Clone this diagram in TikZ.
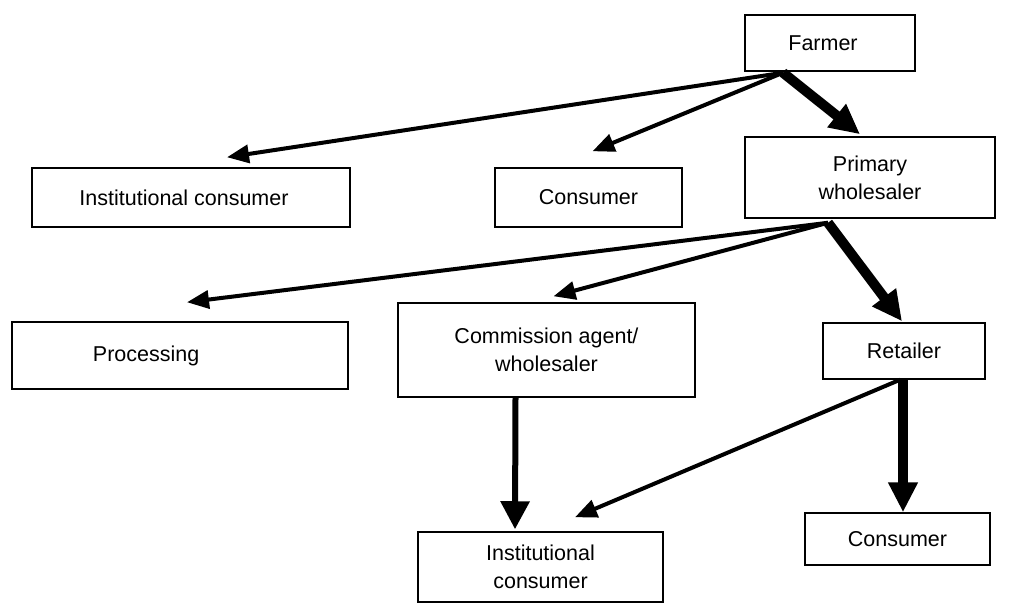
\documentclass[tikz,border=0pt]{standalone}
\usepackage{fontspec}
\setmainfont{Liberation Sans}
\usetikzlibrary{arrows.meta,calc}

\begin{document}
\begin{tikzpicture}[x=1pt, y=-1pt,
  box/.style = {draw, line width=1.5pt, inner sep=0pt, align=center, font=\fontsize{21.5}{28}\selectfont},
  arr/.style = {line width=4pt, -{Triangle[length=22pt, width=18pt]}},
  arrmid/.style = {line width=6pt, -{Triangle[length=28pt, width=28pt]}},
  arrbig/.style = {line width=10pt, -{Triangle[length=30pt, width=28pt]}}]
\useasboundingbox (0,0) rectangle (1009,603);

\node[box, minimum width=170pt, minimum height=56pt] (farmer) at (830,43) {Farmer\hspace*{14pt}};
\node[box, minimum width=250pt, minimum height=81pt] (prim) at (870,177.5) {Primary\\wholesaler};
\node[box, minimum width=318pt, minimum height=59pt] (inst) at (191,197.5) {Institutional consumer\hspace*{14pt}};
\node[box, minimum width=187pt, minimum height=59pt] (cons) at (588.5,197.5) {Consumer};

\node[box, minimum width=336pt, minimum height=67pt, text width=336pt, align=left] (proc) at (180,355.5) {\hspace*{81pt}Processing};
\node[box, minimum width=297pt, minimum height=94pt] (comm) at (546.5,350) {Commission agent/\\wholesaler};
\node[box, minimum width=162pt, minimum height=56pt] (ret) at (904,351) {Retailer};

\node[box, minimum width=245pt, minimum height=70pt] (instb) at (540.5,567) {Institutional\\consumer};
\node[box, minimum width=185pt, minimum height=52pt] (consb) at (897.5,539) {Consumer};

% from the farmer
\draw[arr] ($(farmer.south)+(-47,1)$) -- ($(inst.north)+(36,-10)$);
\draw[arr] ($(farmer.south)+(-47,1)$) -- ($(cons.north)+(4,-16)$);
\draw[arrbig] ($(farmer.south)+(-47,1)$) -- ($(prim.north)+(-10,-2)$);

% from the primary wholesaler
\draw[arr] ($(prim.south)+(-42,4)$) -- ($(proc.north)+(7,-19)$);
\draw[arr] ($(prim.south)+(-42,4)$) -- ($(comm.north)+(7,-6)$);
\draw[arrbig] ($(prim.south)+(-42,4)$) -- ($(ret.north)+(-2,-1)$);

% down to the last consumers
\draw[arrmid] ($(comm.south)+(-31,0)$) -- ($(instb.north)+(-25.5,-2)$);
\draw[arr] ($(ret.south)+(-4,0)$) -- ($(instb.north)+(34.5,-14)$);
\draw[arrbig] ($(ret.south)+(-1,0)$) -- ($(consb.north)+(5.5,0)$);

\end{tikzpicture}
\end{document}
